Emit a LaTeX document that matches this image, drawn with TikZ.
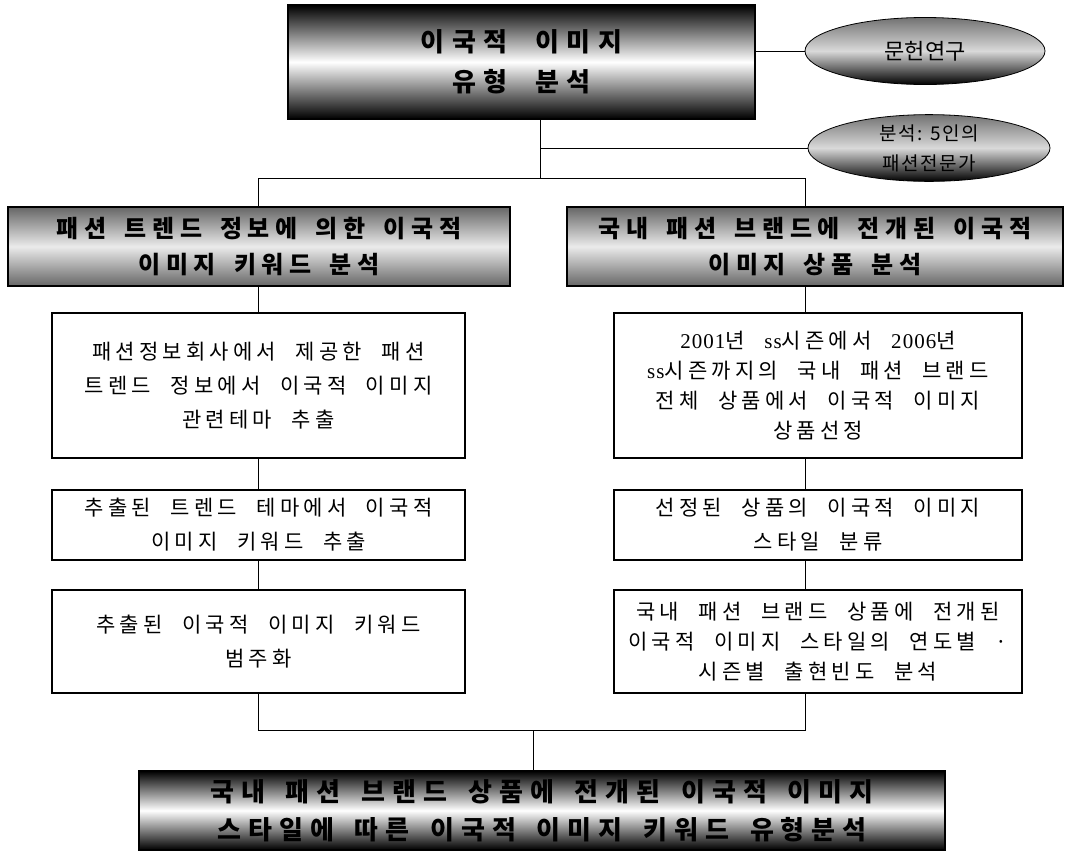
\documentclass[tikz,border=0pt]{standalone}
\usepackage{fontspec}
\usepackage{tikz}
\usetikzlibrary{shapes.geometric}
\setmainfont{Liberation Serif}
\newfontfamily\kr[LetterSpace=20,WordSpace=2.2]{Noto Sans CJK KR}
\newfontfamily\krhead[LetterSpace=24,WordSpace=1.6]{Noto Sans CJK KR}
\newfontfamily\krbig[LetterSpace=27,WordSpace=1.6]{Noto Sans CJK KR}
\newfontfamily\krwide[LetterSpace=30,WordSpace=2]{Noto Sans CJK KR}
\newfontfamily\krplain{Noto Sans CJK KR}
\newfontfamily\krsmall[LetterSpace=8]{Noto Sans CJK KR}
\newfontfamily\latin[LetterSpace=5]{Liberation Serif}

\begin{document}
\begin{tikzpicture}[x=1pt,y=-1pt]
\tikzset{mainbox/.style = {draw,line width=1.4pt,inner sep=0pt,align=center,
  top color=black,bottom color=black,middle color=white}}
\tikzset{headbox/.style = {draw,line width=1.4pt,inner sep=0pt,align=center,
  top color=black!60,bottom color=black!60,middle color=black!8,
  font=\bfseries\krhead\fontsize{24}{36}\selectfont}}
\tikzset{taskbox/.style = {draw,line width=1.1pt,fill=white,inner sep=0pt,align=center,
  font=\kr\fontsize{21}{34}\selectfont}}
\tikzset{srcoval/.style = {ellipse,draw,line width=0.8pt,inner sep=0pt,align=center,
  top color=black!55,bottom color=black,middle color=white!85!black}}
\tikzset{link/.style = {line width=1pt}}
\useasboundingbox (0,0) rectangle (1066,852);
% boxes
\node[mainbox,minimum width=467pt,minimum height=114pt,
  font=\bfseries\krwide\fontsize{26}{40}\selectfont] (type) at (521.5,62) {이국적 이미지\\유형 분석};
\node[srcoval,minimum width=240pt,minimum height=67pt,
  font=\krplain\fontsize{22}{26}\selectfont] (lit) at (925,51) {문헌연구};
\node[srcoval,minimum width=242pt,minimum height=65pt,
  font=\krsmall\fontsize{19}{30}\selectfont] (expert) at (929,148) {분석: 5인의\\패션전문가};
\node[headbox,minimum width=502pt,minimum height=79pt] (lhead) at (259,246.5)
  {패션 트렌드 정보에 의한 이국적\\이미지 키워드 분석};
\node[headbox,minimum width=496pt,minimum height=79pt] (rhead) at (815,246.5)
  {국내 패션 브랜드에 전개된 이국적\\이미지 상품 분석};
\node[taskbox,minimum width=413pt,minimum height=145pt] (ltask1) at (258.5,385.5)
  {패션정보회사에서 제공한 패션\\트렌드 정보에서 이국적 이미지\\관련테마 추출};
\node[taskbox,minimum width=413pt,minimum height=70pt] (ltask2) at (258.5,525)
  {추출된 트렌드 테마에서 이국적\\이미지 키워드 추출};
\node[taskbox,minimum width=413pt,minimum height=103pt] (ltask3) at (258.5,641.5)
  {추출된 이국적 이미지 키워드\\범주화};
\node[taskbox,minimum width=408pt,minimum height=145pt,
  font=\kr\fontsize{21}{30}\selectfont] (rtask1) at (818,385.5)
  {{\latin 2001}년 {\latin ss}시즌에서 {\latin 2006}년\\{\latin ss}시즌까지의 국내 패션 브랜드\\전체 상품에서 이국적 이미지\\상품선정};
\node[taskbox,minimum width=408pt,minimum height=70pt] (rtask2) at (818,525)
  {선정된 상품의 이국적 이미지\\스타일 분류};
\node[taskbox,minimum width=408pt,minimum height=103pt,
  font=\kr\fontsize{21}{30}\selectfont] (rtask3) at (818,641.5)
  {국내 패션 브랜드 상품에 전개된\\이국적 이미지 스타일의 연도별 ·\\시즌별 출현빈도 분석};
\node[mainbox,minimum width=806pt,minimum height=79pt,
  font=\bfseries\krbig\fontsize{26}{38}\selectfont] (result) at (542,810.5)
  {국내 패션 브랜드 상품에 전개된 이국적 이미지\\스타일에 따른 이국적 이미지 키워드 유형분석};
% lines
\coordinate (split) at (540,178);
\coordinate (tap) at (540,148);
\coordinate (lcol) at (258,178);
\coordinate (rcol) at (805,178);
\coordinate (lbot) at (258,730);
\coordinate (rbot) at (805,730);
\coordinate (join) at (533,730);
\draw[link] (type.east |- lit.west) -- (lit.west);
\draw[link] (type.south -| split) -- (split);
\draw[link] (tap) -- (expert.west);
\draw[link] (lhead.north -| lcol) -- (lcol) -- (rcol) -- (rhead.north -| rcol);
\draw[link] (lhead.south -| lcol) -- (ltask1.north -| lcol);
\draw[link] (ltask1.south -| lcol) -- (ltask2.north -| lcol);
\draw[link] (ltask2.south -| lcol) -- (ltask3.north -| lcol);
\draw[link] (rhead.south -| rcol) -- (rtask1.north -| rcol);
\draw[link] (rtask1.south -| rcol) -- (rtask2.north -| rcol);
\draw[link] (rtask2.south -| rcol) -- (rtask3.north -| rcol);
\draw[link] (ltask3.south -| lbot) -- (lbot) -- (rbot) -- (rtask3.south -| rbot);
\draw[link] (join) -- (result.north -| join);
\end{tikzpicture}
\end{document}
